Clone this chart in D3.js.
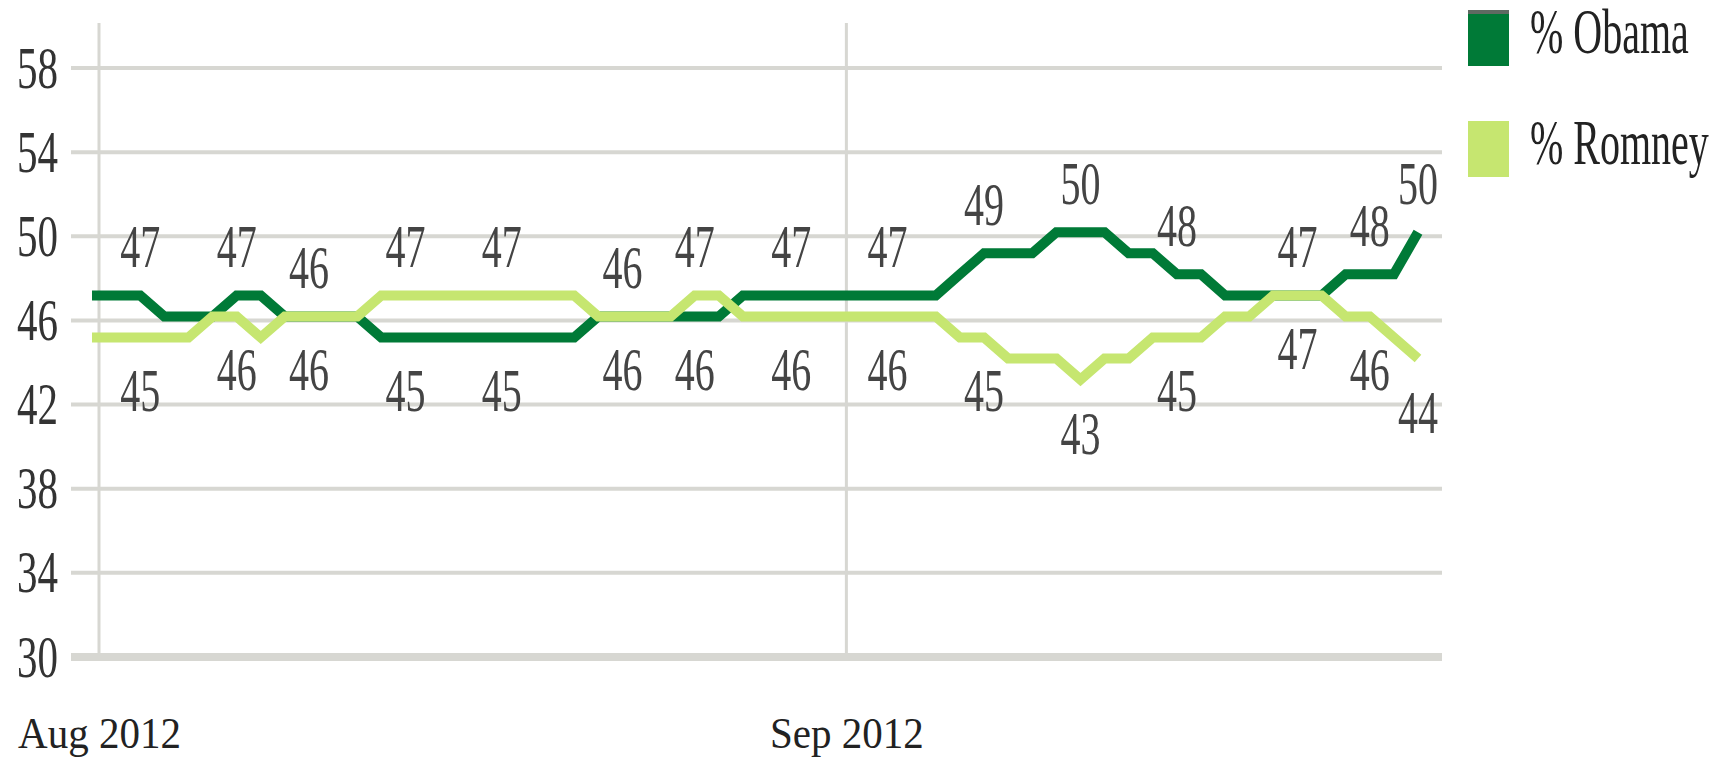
<!DOCTYPE html>
<html>
<head>
    <title>Obama vs Romney</title>
    <meta charset="utf-8" />
    <script type="text/javascript" src="https://cdn.jsdelivr.net/npm/d3@7"></script>
    <style>
        body { margin: 0; background: #fff; }
        text { font-family: "Liberation Serif", "DejaVu Serif", serif; }
    </style>
</head>
<body>
    <svg width="1730" height="758"></svg>
    <script>

        // daily tracking, Aug 1 - Sep 25 2012
        var days = d3.timeDay.range(new Date(2012, 7, 1), new Date(2012, 8, 26));

        var obama = [47, 47, 47, 46, 46, 46, 47, 47, 46, 46, 46, 46, 45, 45, 45, 45, 45, 45, 45, 45,
                     45, 46, 46, 46, 46, 46, 46, 47, 47, 47, 47, 47, 47, 47, 47, 47, 48, 49, 49, 49,
                     50, 50, 50, 49, 49, 48, 48, 47, 47, 47, 47, 47, 48, 48, 48, 50];
        var romney = [45, 45, 45, 45, 45, 46, 46, 45, 46, 46, 46, 46, 47, 47, 47, 47, 47, 47, 47, 47,
                      47, 46, 46, 46, 46, 47, 47, 46, 46, 46, 46, 46, 46, 46, 46, 46, 45, 45, 44, 44,
                      44, 43, 44, 44, 45, 45, 45, 46, 46, 47, 47, 47, 46, 46, 45, 44];

        // days that carry a value label
        var labelDays = [2, 6, 9, 13, 17, 22, 25, 29, 33, 37, 41, 45, 50, 53, 55];

        var yTicks = [30, 34, 38, 42, 46, 50, 54, 58];
        var monthTicks = [new Date(2012, 7, 1), new Date(2012, 8, 1)];

        var series = [
            { name: "% Obama", values: obama, color: "#007a37" },
            { name: "% Romney", values: romney, color: "#c6e670" }
        ];

        var svg = d3.select("svg");

        var x = d3.scaleTime()
            .domain([days[0], days[days.length - 1]])
            .range([92, 1418]);

        var y = d3.scaleLinear()
            .domain([30, 58])
            .range([657, 68]);

        var gridShift = 7;   // month gridlines sit a little right of the first point
        var lineShift = -4;  // series are drawn slightly above the gridlines

        // horizontal gridlines
        svg.append("g")
            .selectAll("line")
            .data(yTicks)
            .enter()
            .append("line")
            .attr("x1", 71)
            .attr("x2", 1442)
            .attr("y1", function (d) { return y(d); })
            .attr("y2", function (d) { return y(d); })
            .attr("stroke", "#d7d7d2")
            .attr("stroke-width", function (d) { return d == 30 ? 8 : 4; });

        // month gridlines
        svg.append("g")
            .selectAll("line")
            .data(monthTicks)
            .enter()
            .append("line")
            .attr("x1", function (d) { return x(d) + gridShift; })
            .attr("x2", function (d) { return x(d) + gridShift; })
            .attr("y1", 23)
            .attr("y2", y(30) - 4)
            .attr("stroke", "#d7d7d2")
            .attr("stroke-width", 3);

        // y axis labels
        var yAxis = svg.append("g")
            .attr("transform", "translate(58,0)")
            .call(d3.axisLeft(y).tickValues(yTicks).tickSize(0).tickPadding(0));
        yAxis.select(".domain").remove();
        yAxis.selectAll("text")
            .attr("fill", "#333")
            .attr("font-size", 41)
            .attr("font-family", "Liberation Serif")
            .attr("transform", "scale(1,1.45)");

        // x axis labels
        var xAxis = svg.append("g")
            .attr("transform", "translate(" + gridShift + ",710)")
            .call(d3.axisBottom(x).tickValues(monthTicks).tickFormat(d3.timeFormat("%b %Y")).tickSize(0).tickPadding(0));
        xAxis.select(".domain").remove();
        xAxis.selectAll("text")
            .attr("fill", "#222")
            .attr("font-size", 41)
            .attr("font-family", "Liberation Serif")
            .attr("dy", "0")
            .attr("y", 0)
            .attr("transform", "translate(0,38) scale(1,1.1)");

        // lines
        var line = d3.line()
            .x(function (d, i) { return x(days[i]); })
            .y(function (d) { return y(d); });

        svg.append("g")
            .attr("transform", "translate(0," + lineShift + ")")
            .selectAll("path")
            .data(series)
            .enter()
            .append("path")
            .attr("d", function (d) { return line(d.values); })
            .attr("fill", "none")
            .attr("stroke", function (d) { return d.color; })
            .attr("stroke-width", 10)
            .attr("stroke-linejoin", "miter");

        // value labels: higher value above, lower below
        var labels = [];
        labelDays.forEach(function (i) {
            var o = obama[i], r = romney[i];
            var top = o >= r ? o : r;
            var bottom = o >= r ? r : o;
            labels.push({ i: i, v: top, dy: -28 });
            labels.push({ i: i, v: bottom, dy: 74 });
        });

        svg.append("g")
            .selectAll("g")
            .data(labels)
            .enter()
            .append("g")
            .attr("transform", function (d) {
                return "translate(" + x(days[d.i]) + "," + (y(d.v) + lineShift + d.dy) + ") scale(1,1.55)";
            })
            .append("text")
            .attr("text-anchor", "middle")
            .attr("font-size", 40)
            .attr("fill", "#444")
            .text(function (d) { return d.v; });

        // legend
        var legend = svg.append("g")
            .selectAll("g")
            .data(series)
            .enter()
            .append("g")
            .attr("transform", function (d, i) { return "translate(1468," + (10 + i * 111) + ")"; });

        legend.append("rect")
            .attr("width", 41)
            .attr("height", 56)
            .attr("fill", function (d) { return d.color; });

        legend.filter(function (d, i) { return i == 0; })
            .append("rect")
            .attr("width", 41)
            .attr("height", 4)
            .attr("fill", "#5f6a62");

        legend.append("g")
            .attr("transform", "translate(62,43) scale(1,1.57)")
            .append("text")
            .attr("font-size", 40)
            .attr("fill", "#222")
            .text(function (d) { return d.name; });

    </script>
</body>
</html>
